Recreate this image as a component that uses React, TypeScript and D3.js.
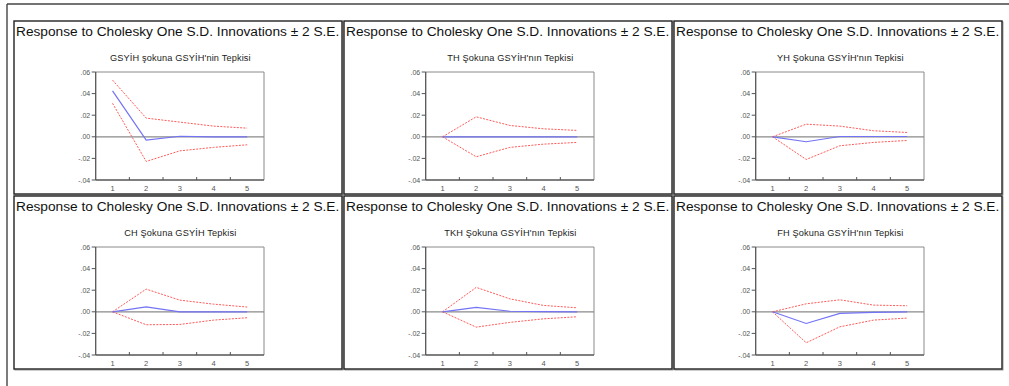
import React from "react";
import * as d3 from "d3";

// Impulse-response horizons
const periods = [1, 2, 3, 4, 5];

// Y axis ticks and their printed labels
const yTicks = [0.06, 0.04, 0.02, 0.0, -0.02, -0.04];
const yTickLabels = [".06", ".04", ".02", ".00", "-.02", "-.04"];

const mainTitle = "Response to Cholesky One S.D. Innovations \u00B1 2 S.E.";

// Panel subtitles
const subtitles = [
  "GSYİH şokuna GSYİH'nin Tepkisi",
  "TH Şokuna GSYİH'nın Tepkisi",
  "YH Şokuna GSYİH'nın Tepkisi",
  "CH Şokuna GSYİH Tepkisi",
  "TKH Şokuna GSYİH'nın Tepkisi",
  "FH Şokuna GSYİH'nın Tepkisi",
];

// Point responses
const responseGSYIH = [0.0426, -0.003, 0.0005, 0.0, 0.0];
const responseTH = [0.0, 0.0, 0.0, 0.0, 0.0];
const responseYH = [0.0, -0.0046, 0.0003, 0.0003, 0.0003];
const responseCH = [0.0, 0.0046, 0.0, 0.0, 0.0];
const responseTKH = [0.0, 0.0041, 0.0005, 0.0001, 0.0];
const responseFH = [0.0, -0.0108, -0.0015, -0.0005, 0.0];

// Upper bands (+2 S.E.)
const upperGSYIH = [0.0525, 0.0173, 0.0136, 0.0099, 0.008];
const upperTH = [0.0, 0.0185, 0.0105, 0.0074, 0.0059];
const upperYH = [0.0, 0.0117, 0.0099, 0.0056, 0.004];
const upperCH = [0.0, 0.021, 0.0108, 0.0071, 0.0044];
const upperTKH = [0.0, 0.0226, 0.012, 0.0059, 0.0037];
const upperFH = [0.0, 0.0074, 0.0111, 0.0062, 0.0056];

// Lower bands (-2 S.E.)
const lowerGSYIH = [0.031, -0.0228, -0.013, -0.0098, -0.0074];
const lowerTH = [0.0, -0.0185, -0.0098, -0.0068, -0.0052];
const lowerYH = [0.0, -0.021, -0.0083, -0.0052, -0.0034];
const lowerCH = [0.0, -0.012, -0.0117, -0.0077, -0.0055];
const lowerTKH = [0.0, -0.0142, -0.0098, -0.0065, -0.0046];
const lowerFH = [0.0, -0.0287, -0.0139, -0.0077, -0.0058];

const responses = [responseGSYIH, responseTH, responseYH, responseCH, responseTKH, responseFH];
const uppers = [upperGSYIH, upperTH, upperYH, upperCH, upperTKH, upperFH];
const lowers = [lowerGSYIH, lowerTH, lowerYH, lowerCH, lowerTKH, lowerFH];

const W = 1009;
const H = 386;
const panelX0 = 14;
const panelY0 = 21;
const panelStepX = 330;
const panelStepY = 175;
const panelW = 328;
const panelH = 173;

// plot box inside each panel
const plotLeft = 81.7;
const plotRight = 250;
const plotTop = 51;
const plotBottom = 159;

const FONT = "'Liberation Sans', Arial, Helvetica, sans-serif";

function Panel({ idx }: { idx: number }) {
  const col = idx % 3;
  const row = Math.floor(idx / 3);
  const px = panelX0 + col * panelStepX;
  const py = panelY0 + row * panelStepY;

  const x = d3.scaleBand<number>().domain(periods).range([plotLeft, plotRight]).padding(0);
  const y = d3.scaleLinear().domain([-0.04, 0.06]).range([plotBottom, plotTop]);
  const cx = (p: number) => (x(p) as number) + x.bandwidth() / 2;

  const line = d3
    .line<number>()
    .x((_, i) => cx(periods[i]))
    .y((d) => y(d));

  const boundaries = periods.slice(1).map((p) => x(p) as number);

  return (
    <g transform={`translate(${px},${py})`}>
      {/* panel frame with a light shadow edge */}
      <rect x={1} y={1} width={panelW} height={panelH} fill="none" stroke="#9a9a9a" strokeWidth={1} />
      <rect x={0} y={0} width={panelW} height={panelH} fill="#fff" stroke="#222" strokeWidth={1.4} />
      <text x={2} y={15} fontFamily={FONT} fontSize={13.7} fill="#111">
        {mainTitle}
      </text>
      <text
        x={(plotLeft + plotRight) / 2 + 0.5}
        y={40}
        textAnchor="middle"
        fontFamily={FONT}
        fontSize={9.2}
        fill="#222"
        letterSpacing={0.15}
      >
        {subtitles[idx]}
      </text>

      {/* zero line */}
      <line x1={plotLeft} x2={plotRight} y1={y(0)} y2={y(0)} stroke="#8a8a8a" strokeWidth={1.2} />

      {/* bands */}
      <path d={line(uppers[idx]) as string} fill="none" stroke="#ff5a5a" strokeWidth={1} strokeDasharray="2 1.3" />
      <path d={line(lowers[idx]) as string} fill="none" stroke="#ff5a5a" strokeWidth={1} strokeDasharray="2 1.3" />
      {/* response */}
      <path d={line(responses[idx]) as string} fill="none" stroke="#7373f5" strokeWidth={1.2} />

      {/* plot frame */}
      <line x1={plotLeft} x2={plotRight} y1={plotTop} y2={plotTop} stroke="#8a8a8a" strokeWidth={1} />
      <line x1={plotRight} x2={plotRight} y1={plotTop} y2={plotBottom} stroke="#8a8a8a" strokeWidth={1} />
      <line x1={plotLeft} x2={plotLeft} y1={plotTop} y2={plotBottom} stroke="#555" strokeWidth={1.3} />
      <line x1={plotLeft} x2={plotRight} y1={plotBottom} y2={plotBottom} stroke="#555" strokeWidth={1.3} />

      {/* y ticks */}
      {yTicks.map((t, i) => (
        <g key={i}>
          <line x1={plotLeft - 4} x2={plotLeft} y1={y(t)} y2={y(t)} stroke="#555" strokeWidth={1} />
          <text x={plotLeft - 5.5} y={y(t) + 2.5} textAnchor="end" fontFamily={FONT} fontSize={7} fill="#555">
            {yTickLabels[i]}
          </text>
        </g>
      ))}

      {/* x ticks */}
      {boundaries.map((b, i) => (
        <line key={i} x1={b} x2={b} y1={plotBottom} y2={plotBottom - 3} stroke="#555" strokeWidth={1} />
      ))}
      {periods.map((p) => (
        <text key={p} x={cx(p)} y={plotBottom + 11} textAnchor="middle" fontFamily={FONT} fontSize={7.5} fill="#555">
          {p}
        </text>
      ))}
    </g>
  );
}

export default function App() {
  return (
    <div style={{ position: "absolute", left: 0, top: 0 }}>
      <svg width={W} height={H} style={{ display: "block", background: "#fff" }}>
        {/* outer frame */}
        <line x1={7} x2={W} y1={4} y2={4} stroke="#444" strokeWidth={1.4} />
        <line x1={7} x2={7} y1={4} y2={H} stroke="#444" strokeWidth={1.4} />
        {subtitles.map((_, i) => (
          <Panel key={i} idx={i} />
        ))}
      </svg>
    </div>
  );
}
